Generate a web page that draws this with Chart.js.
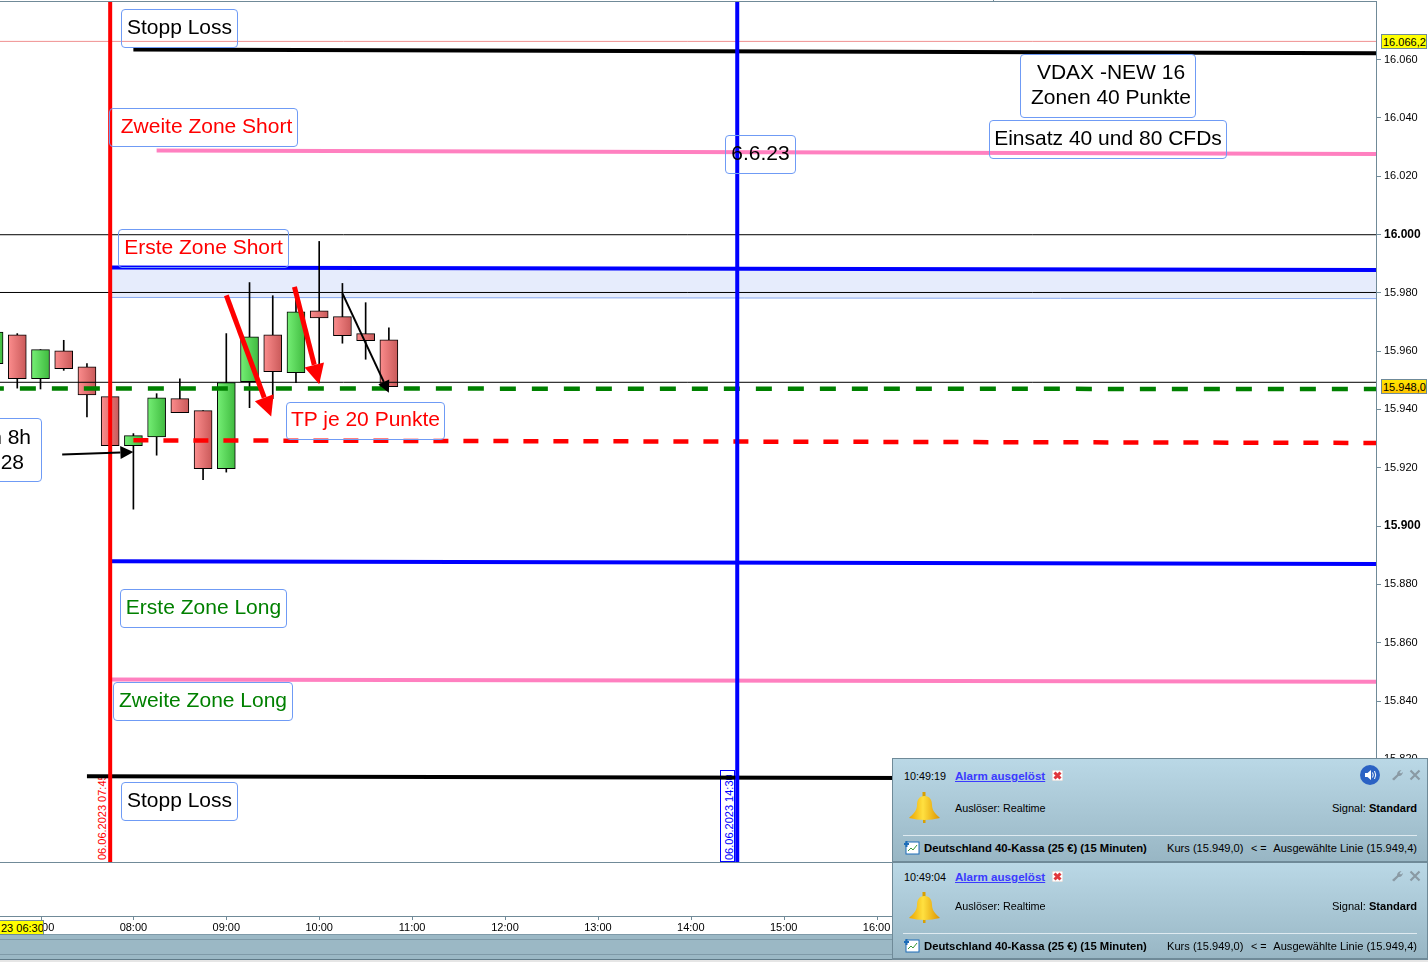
<!DOCTYPE html>
<html lang="de">
<head>
<meta charset="utf-8">
<title>Deutschland 40 - Zonen</title>
<script src="https://cdn.jsdelivr.net/npm/chart.js@4/dist/chart.umd.min.js"></script>
<style>
  html, body { margin: 0; padding: 0; background: #fff; width: 1428px; height: 962px; overflow: hidden; font-family: "Liberation Sans", Arial, sans-serif; }
  #wrap { position: absolute; left: 0; top: 0; width: 1428px; height: 962px; overflow: hidden; }
  canvas { position: absolute; left: 0; top: 0; z-index: 2; }
  .note { position: absolute; z-index: 3; box-sizing: border-box; border: 1px solid #6f9bf5; border-radius: 4px; padding-bottom: 4px; font-size: 21px; line-height: 25.5px; display: flex; flex-direction: column; align-items: center; justify-content: center; white-space: nowrap; color: #000; }
  .red { color: #ff0000; }
  .green { color: #008000; }
  .vdate { position: absolute; z-index: 1; writing-mode: vertical-rl; transform: rotate(180deg); font-size: 11px; line-height: 12px; white-space: nowrap; }
  .tag { position: absolute; z-index: 3; box-sizing: border-box; border: 1px solid #6f8a98; font-size: 11px; line-height: 12px; color: #000; white-space: nowrap; overflow: hidden; }
  .panel { position: absolute; z-index: 4; left: 892px; width: 536px; box-sizing: border-box; border: 1px solid #6f8a98; border-bottom-width: 2px; background: linear-gradient(#bad8e6, #98b6c4); font-size: 10.8px; color: #000; }
  .panel span, .panel svg, .panel hr { position: absolute; white-space: nowrap; line-height: 12px; }
  .panel a { color: #3a3aff; font-weight: bold; font-size: 11.6px; text-decoration: underline; }
  .panel hr { left: 10px; width: 514px; margin: 0; border: 0; height: 1px; background: #dfeaf0; }
  .panel .title { font-weight: bold; font-size: 11.3px; }
  .panel .kurs { font-size: 11.1px; }
</style>
</head>
<body>
<div id="wrap">
  <canvas id="chart" width="1428" height="962"></canvas>

  <div class="note" style="left:121px;top:9px;width:117px;height:39px">Stopp Loss</div>
  <div class="note red" style="left:109px;top:108px;width:189px;height:39px;padding-left:6px">Zweite Zone Short</div>
  <div class="note red" style="left:118px;top:229px;width:171px;height:39px">Erste Zone Short</div>
  <div class="note red" style="left:286px;top:402px;width:159px;height:38px">TP je 20 Punkte</div>
  <div class="note green" style="left:120px;top:589px;width:167px;height:39px">Erste Zone Long</div>
  <div class="note green" style="left:113px;top:682px;width:180px;height:39px">Zweite Zone Long</div>
  <div class="note" style="left:121px;top:782px;width:117px;height:39px">Stopp Loss</div>
  <div class="note" style="left:1020px;top:54px;width:176px;height:64px;padding-left:6px"><div>VDAX -NEW 16</div><div>Zonen 40 Punkte</div></div>
  <div class="note" style="left:989px;top:120px;width:238px;height:39px">Einsatz 40 und 80 CFDs</div>
  <div class="note" style="left:725px;top:135px;width:71px;height:39px">6.6.23</div>
  <div class="note" style="left:-20px;top:418px;width:62px;height:64px">
    <span style="position:absolute;right:10px;top:5px">n 8h</span>
    <span style="position:absolute;right:17px;top:30px">28</span>
  </div>

  <div class="vdate" style="left:96px;top:776px;height:84px;color:#ff0000;overflow:hidden">06.06.2023 07:45</div>
  <div style="position:absolute;z-index:1;left:720px;top:770px;width:15px;height:92px;box-sizing:border-box;border:1px solid #0000ff"></div>
  <div class="vdate" style="left:723px;top:775px;height:85px;color:#0000ff;overflow:hidden">06.06.2023 14:30</div>

  <div class="tag" style="left:1381px;top:34px;width:46px;height:15px;background:#ffff00;padding:1px 0 0 1px">16.066,2</div>
  <div class="tag" style="left:1381px;top:379px;width:46px;height:15px;background:linear-gradient(#ffe600,#ffc400);padding:1px 0 0 1px">15.948,0</div>
  <div class="tag" style="left:-1px;top:920px;width:45px;height:15px;background:#ffff00;padding:1px 1px 0 1px;text-align:right">23 06:30</div>

  <div class="panel" style="top:758px;height:105px">
    <span style="left:11px;top:11px">10:49:19</span>
    <span style="left:62px;top:11px"><a>Alarm ausgelöst</a></span>
    <svg style="left:159px;top:11px" width="11" height="11" viewBox="0 0 11 11"><rect width="11" height="11" fill="#fff" stroke="#c9c9c9"/><path d="M2.5 2.5L8.5 8.5M8.5 2.5L2.5 8.5" stroke="#e0363c" stroke-width="3"/></svg>
    <svg style="left:467px;top:6px" width="20" height="20" viewBox="0 0 20 20"><circle cx="10" cy="10" r="10" fill="#2b62c4"/><path d="M5 8h2.5L11 5v10l-3.500-3H5z" fill="#fff"/><path d="M12.500 7.500q1.500 2.500 0 5M14.500 6q2.500 4 0 8" stroke="#fff" fill="none"/></svg>
    <svg style="left:498px;top:10px" width="12" height="12" viewBox="0 0 12 12"><path d="M1 10L6 5.500Q6 1.500 10.500 1L8.500 3.500 10 4.500 12 3Q11 7.500 7.500 7L3 11.500z" fill="#8a9aa4"/></svg>
    <svg style="left:516px;top:10px" width="12" height="12" viewBox="0 0 12 12"><path d="M1.500 1.500L10.500 10.500M10.500 1.500L1.500 10.500" stroke="#8a9aa4" stroke-width="2.200"/></svg>
    <svg style="left:15px;top:33px" width="33" height="32" viewBox="0 0 33 32"><defs><linearGradient id="b1" x1="0" x2="1"><stop offset="0" stop-color="#eaa400"/><stop offset=".45" stop-color="#ffe040"/><stop offset="1" stop-color="#dc9400"/></linearGradient></defs><path d="M14.500 0h3v5h-3zM15 27h2.500v4H15z" fill="#d9a000"/><path d="M16.500 4C11 4 9 8 9 13 9 19 5 22 1 26Q16.500 30 32 26C28 22 24 19 24 13 24 8 22 4 16.500 4z" fill="url(#b1)"/></svg>
    <span style="left:62px;top:43px">Auslöser: Realtime</span>
    <span class="kurs" style="right:10px;top:43px">Signal: <b>Standard</b></span>
    <hr style="top:76px">
    <svg style="left:11px;top:82px" width="16" height="14" viewBox="0 0 16 14"><rect x="2" y="1" width="13" height="12" fill="#fff" stroke="#1c6cb8"/><path d="M4 10l3-3 2 2 4-5" stroke="#3a9a3a" fill="none"/><path d="M2.500 0v6M0 3h5" stroke="#1c6cb8" stroke-width="2"/></svg>
    <span class="title" style="left:31px;top:83px">Deutschland 40-Kassa (25 €) (15 Minuten)</span>
    <span class="kurs" style="left:274px;top:83px">Kurs (15.949,0)</span>
    <span style="left:358px;top:83px">&lt; =</span>
    <span class="kurs" style="right:10px;top:83px">Ausgewählte Linie (15.949,4)</span>
  </div>

  <div class="panel" style="top:862px;height:98px">
    <span style="left:11px;top:8px">10:49:04</span>
    <span style="left:62px;top:8px"><a>Alarm ausgelöst</a></span>
    <svg style="left:159px;top:8px" width="11" height="11" viewBox="0 0 11 11"><rect width="11" height="11" fill="#fff" stroke="#c9c9c9"/><path d="M2.500 2.500L8.500 8.500M8.500 2.500L2.500 8.500" stroke="#e0363c" stroke-width="3"/></svg>
    <svg style="left:498px;top:7px" width="12" height="12" viewBox="0 0 12 12"><path d="M1 10L6 5.500Q6 1.500 10.500 1L8.500 3.500 10 4.500 12 3Q11 7.500 7.500 7L3 11.500z" fill="#8a9aa4"/></svg>
    <svg style="left:516px;top:7px" width="12" height="12" viewBox="0 0 12 12"><path d="M1.500 1.500L10.500 10.500M10.500 1.500L1.500 10.500" stroke="#8a9aa4" stroke-width="2.200"/></svg>
    <svg style="left:15px;top:29px" width="33" height="32" viewBox="0 0 33 32"><path d="M14.500 0h3v5h-3zM15 27h2.500v4H15z" fill="#d9a000"/><path d="M16.500 4C11 4 9 8 9 13 9 19 5 22 1 26Q16.500 30 32 26C28 22 24 19 24 13 24 8 22 4 16.500 4z" fill="url(#b1)"/></svg>
    <span style="left:62px;top:37px">Auslöser: Realtime</span>
    <span class="kurs" style="right:10px;top:37px">Signal: <b>Standard</b></span>
    <hr style="top:70px">
    <svg style="left:11px;top:76px" width="16" height="14" viewBox="0 0 16 14"><rect x="2" y="1" width="13" height="12" fill="#fff" stroke="#1c6cb8"/><path d="M4 10l3-3 2 2 4-5" stroke="#3a9a3a" fill="none"/><path d="M2.500 0v6M0 3h5" stroke="#1c6cb8" stroke-width="2"/></svg>
    <span class="title" style="left:31px;top:77px">Deutschland 40-Kassa (25 €) (15 Minuten)</span>
    <span class="kurs" style="left:274px;top:77px">Kurs (15.949,0)</span>
    <span style="left:358px;top:77px">&lt; =</span>
    <span class="kurs" style="right:10px;top:77px">Ausgewählte Linie (15.949,4)</span>
  </div>
</div>

<script>
// 15 minute candles
const candleTimes = ["06:30","06:45","07:00","07:15","07:30","07:45","08:00","08:15","08:30","08:45","09:00","09:15","09:30","09:45","10:00","10:15","10:30","10:45"];
const opens  = [15955.7,15965.6,15950.5,15960.1,15954.6,15944.4,15927.6,15930.6,15943.7,15939.6,15919.7,15949.5,15965.6,15952.6,15973.8,15971.8,15966.0,15963.9];
const closes = [15966.5,15950.5,15960.5,15954.0,15945.0,15927.6,15931.0,15944.0,15938.9,15919.7,15949.2,15964.9,15952.9,15973.5,15971.4,15965.3,15963.6,15947.8];
const highs  = [15966.5,15966.0,15960.5,15963.7,15955.7,15944.4,15931.7,15945.4,15950.5,15939.6,15966.0,15983.5,15979.0,15979.0,15997.6,15983.2,15976.6,15968.0];
const lows   = [15955.7,15947.3,15947.0,15953.4,15937.4,15927.6,15905.8,15924.3,15938.9,15915.9,15918.5,15940.6,15943.7,15949.2,15949.2,15962.7,15957.2,15947.8];

// axes
const priceTicks = [16060,16040,16020,16000,15980,15960,15940,15920,15900,15880,15860,15840,15820,15800];
const hourTicks = [7,8,9,10,11,12,13,14,15,16,17,18,19,20,21];

// drawn levels, [time, price] at both ends
const stopTop = [["08:00",16063.4],["21:23",16062.1]];
const zone2Short = [["08:15",16028.8],["21:23",16027.6]];
const zone1Short = [["07:46",15988.7],["21:23",15987.8]];
const zoneBottom = [["07:46",15978.4],["21:23",15978.0]];
const zone1Long = [["07:46",15887.9],["21:23",15887.0]];
const zone2Long = [["07:46",15847.4],["21:23",15846.6]];
const stopBottom = [["07:30",15814.2],["21:23",15813.3]];
const entryLine = [["06:26",15947.2],["21:23",15947.0]];
const targetLine = [["08:00",15929.4],["21:23",15928.5]];
const line16000 = [["06:00",15999.9],["21:23",15999.9]];
const line15980 = [["06:00",15980.1],["21:23",15980.1]];
const line15949 = [["06:00",15949.3],["21:23",15949.3]];
const lastPrice = [["06:00",16066.2],["21:23",16066.2]];
const verticalRed = [["07:45",15700],["07:45",16079.8]];
const verticalBlue = [["14:30",15700],["14:30",16079.8]];

// hand drawn arrows, start then tip
const arrowA = [["09:00",15979.1],["09:29",15937.6]];
const arrowB = [["09:44",15982.0],["10:00",15948.6]];
const arrowC = [["10:15",15979.8],["10:45",15945.7]];
const arrowD = [["07:14",15924.5],["08:00",15925.4]];

const hours = t => { const p = t.split(":"); return +p[0] + p[1] / 60; };
const toXY = pts => pts.map(p => ({ x: hours(p[0]), y: p[1] }));
const slate = "#708a98";

function level(pts, color, width, extra) {
  return Object.assign({ type: "line", data: toXY(pts), borderColor: color, borderWidth: width, pointRadius: 0, tension: 0, order: 3 }, extra);
}
function arrow(pts, color, width, head) {
  return { type: "line", data: toXY(pts), showLine: false, pointRadius: 0, order: 0, arrowColor: color, arrowWidth: width, arrowHead: head };
}

function bodyFill(c) {
  if (c.type !== "data") return "#000";
  const up = closes[c.dataIndex] > opens[c.dataIndex];
  const px = c.chart.scales.x.getPixelForValue(hours(candleTimes[c.dataIndex]));
  if (!isFinite(px)) return up ? "#5ad45a" : "#e07070";
  const g = c.chart.ctx.createLinearGradient(px - 8, 0, px + 8, 0);
  if (up) {
    g.addColorStop(0, "#72ec72"); g.addColorStop(1, "#42bd42");
  } else {
    g.addColorStop(0, "#f98a8a"); g.addColorStop(1, "#cc5c5c");
  }
  return g;
}

// arrows and the fixed frame of the trading window
const extras = {
  id: "extras",
  afterDatasetsDraw(chart) {
    const ctx = chart.ctx;
    chart.data.datasets.forEach((ds, i) => {
      if (!ds.arrowColor) return;
      const pts = chart.getDatasetMeta(i).data;
      const a = pts[0], b = pts[1];
      const ang = Math.atan2(b.y - a.y, b.x - a.x);
      const h = ds.arrowHead;
      ctx.save();
      ctx.strokeStyle = ds.arrowColor;
      ctx.fillStyle = ds.arrowColor;
      ctx.lineWidth = ds.arrowWidth;
      ctx.beginPath();
      ctx.moveTo(a.x, a.y);
      ctx.lineTo(b.x - Math.cos(ang) * h, b.y - Math.sin(ang) * h);
      ctx.stroke();
      ctx.translate(b.x, b.y);
      ctx.rotate(ang);
      ctx.beginPath();
      ctx.moveTo(0, 0);
      ctx.lineTo(-h, -h / 2);
      ctx.lineTo(-h, h / 2);
      ctx.closePath();
      ctx.fill();
      ctx.restore();
    });
  },
  afterDraw(chart) {
    const ctx = chart.ctx, a = chart.chartArea, xs = chart.scales.x;
    ctx.save();
    ctx.fillStyle = slate;
    ctx.fillRect(0, 1, a.right, 1);
    ctx.fillRect(993, 0, 1, 1);
    ctx.fillRect(0, 862, a.right, 1);
    ctx.fillRect(0, 916, a.right, 1);
    hourTicks.forEach(h => ctx.fillRect(Math.round(xs.getPixelForValue(h)), 916, 1, 4));
    // bottom scroller strip
    ctx.fillStyle = "#9bb8c5";
    ctx.fillRect(0, 934, 1428, 26);
    ctx.fillStyle = "#7f9aa8";
    ctx.fillRect(0, 934, 1428, 1);
    ctx.fillRect(0, 939, 1428, 1);
    ctx.fillRect(0, 954, 1428, 1);
    ctx.fillStyle = "#5f7a88";
    ctx.fillRect(0, 959, 1428, 1);
    ctx.fillStyle = "#e6e6e6";
    ctx.fillRect(0, 960, 1428, 2);
    ctx.restore();
  }
};

new Chart(document.getElementById("chart"), {
  type: "bar",
  data: {
    datasets: [
      { type: "bar", data: candleTimes.map((t, i) => ({ x: hours(t), y: [lows[i], highs[i]] })), backgroundColor: "#000", barThickness: 1, grouped: false, order: 6 },
      { type: "bar", data: candleTimes.map((t, i) => ({ x: hours(t), y: [opens[i], closes[i]] })), backgroundColor: bodyFill, borderColor: "#000", borderWidth: 1, borderSkipped: false, barThickness: 18, grouped: false, order: 5 },
      level(zoneBottom, "#86a8f0", 1, { fill: "+1", backgroundColor: "#e6ecfc", order: 9 }),
      level(zone1Short, "#0000ff", 4, { order: 8.5 }),
      level(line16000, "#000", 1, { order: 8 }),
      level(line15980, "#000", 1, { order: 8 }),
      level(line15949, "#000", 1, { order: 4 }),
      level(lastPrice, "#f09090", 1, { order: 8 }),
      level(stopTop, "#000", 4),
      level(zone2Short, "#ff80c0", 4),
      level(zone1Long, "#0000ff", 4),
      level(zone2Long, "#ff80c0", 4),
      level(stopBottom, "#000", 4),
      level(entryLine, "#008000", 4.5, { borderDash: [16, 16] }),
      level(targetLine, "#ff0000", 4.5, { borderDash: [15, 15] }),
      level(verticalRed, "#ff0000", 4, { order: 1 }),
      level(verticalBlue, "#0000ff", 4, { order: 1 }),
      arrow(arrowA, "#ff0000", 5, 20),
      arrow(arrowB, "#ff0000", 5, 20),
      arrow(arrowC, "#000", 2, 12),
      arrow(arrowD, "#000", 2, 13)
    ]
  },
  options: {
    responsive: false,
    animation: false,
    devicePixelRatio: 1,
    layout: { padding: { top: 1, left: 0, right: 0, bottom: 0 } },
    plugins: { legend: { display: false }, tooltip: { enabled: false } },
    events: [],
    scales: {
      x: {
        type: "linear",
        offset: false,
        min: 6.564,
        max: 21.376,
        afterFit: s => { s.height = 100; s.paddingLeft = 0; s.paddingRight = 0; },
        afterBuildTicks: s => { s.ticks = hourTicks.map(v => ({ value: v })); },
        grid: { display: false, offset: false },
        border: { display: false },
        ticks: {
          padding: 51,
          autoSkip: false,
          maxRotation: 0,
          color: "#000",
          font: { family: "Liberation Sans", size: 11 },
          callback: v => String(v).padStart(2, "0") + ":00"
        }
      },
      y: {
        position: "right",
        min: 15784.8,
        max: 16080.05,
        afterFit: s => { s.width = 52; s.paddingTop = 0; s.paddingBottom = 0; },
        afterBuildTicks: s => { s.ticks = priceTicks.map(v => ({ value: v })); },
        grid: { drawOnChartArea: false, color: slate, tickLength: 5 },
        border: { color: slate, width: 1 },
        ticks: {
          padding: 3,
          autoSkip: false,
          color: "#000",
          font: c => {
            const major = c.tick && c.tick.value % 100 === 0;
            return { family: "Liberation Sans", size: major ? 12 : 11, weight: major ? "bold" : "normal" };
          },
          callback: v => String(v).replace(/(\d{3})$/, ".$1")
        }
      }
    }
  },
  plugins: [extras]
});
</script>
</body>
</html>
